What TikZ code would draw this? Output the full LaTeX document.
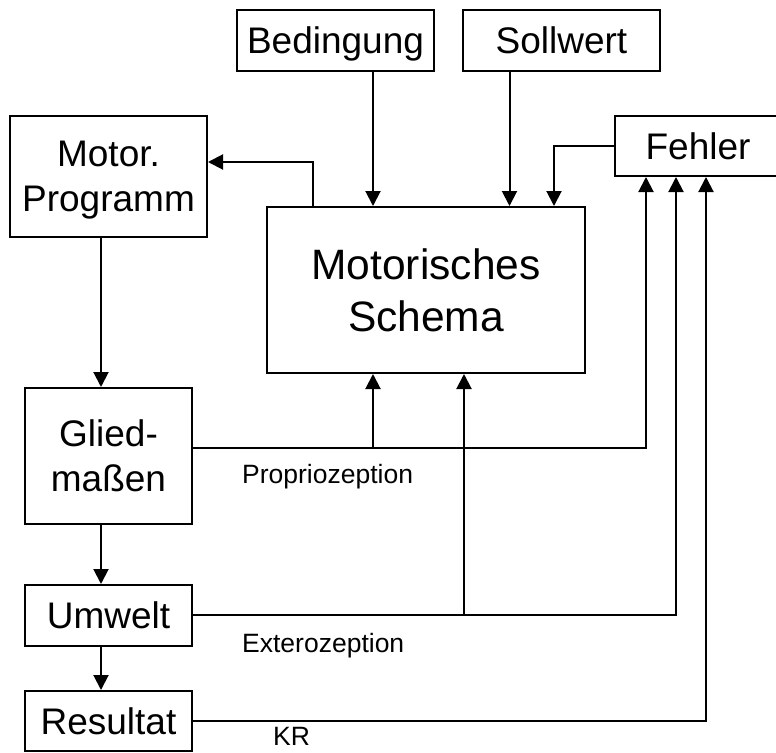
\documentclass[tikz,border=0pt]{standalone}
\usepackage{fontspec}
\setmainfont{Liberation Sans}
\usetikzlibrary{arrows.meta}
\begin{document}
\begin{tikzpicture}[x=1pt,y=-1pt,
  box/.style={draw,line width=2pt,inner sep=0pt,align=center,text depth=0pt,
    font=\fontsize{37}{45}\selectfont},
  lbl/.style={inner sep=0pt,font=\fontsize{26.5}{30}\selectfont},
  conn/.style={line width=2pt},
  flow/.style={conn,-{Triangle[length=15pt,width=15pt]}}]
\useasboundingbox (0,0) rectangle (776,752);

% boxes
\node[box,minimum width=197pt,minimum height=61pt] (bed) at (335.5,40.5) {Bedingung};
\node[box,minimum width=197pt,minimum height=61pt] (soll) at (561.5,40.5) {Sollwert};
\node[box,minimum width=166pt,minimum height=60pt] (fehl) at (698,146) {Fehler};
\node[box,minimum width=197pt,minimum height=121pt] (prog) at (108.5,176.5) {Motor.\\Programm};
\node[box,minimum width=318pt,minimum height=166pt,
  font=\fontsize{42.5}{52}\selectfont] (schema) at (426,290) {Motorisches\\Schema};
\node[box,minimum width=167pt,minimum height=136pt] (glied) at (108.5,456) {Glied-\\maßen};
\node[box,minimum width=167pt,minimum height=61pt] (umw) at (108.5,615.5) {Umwelt};
\node[box,minimum width=167pt,minimum height=60pt] (res) at (108.5,721) {Resultat};

% bend points and tap positions
\coordinate (pb) at (313,162);
\coordinate (xa) at (101,0);
\coordinate (xb) at (373,0);
\coordinate (xs) at (509.5,0);
\coordinate (xf) at (554,0);
\coordinate (pp) at (646,448);
\coordinate (pe) at (676,615);
\coordinate (pk) at (706,721);
\coordinate (tp) at (373,448);
\coordinate (te) at (464,615);

% inputs of the schema
\draw[flow] (bed.south -| xb) -- (schema.north -| xb);
\draw[flow] (soll.south -| xs) -- (schema.north -| xs);
\draw[flow] (fehl.west) -| (schema.north -| xf);
\draw[flow] (schema.north -| pb) -- (pb) -- (prog.east |- pb);

% motor chain
\draw[flow] (prog.south -| xa) -- (glied.north -| xa);
\draw[flow] (glied.south -| xa) -- (umw.north -| xa);
\draw[flow] (umw.south -| xa) -- (res.north -| xa);

% feedback loops
\draw[flow] (glied.east |- pp) -- (pp) -- (fehl.south -| pp);
\draw[flow] (tp) -- (schema.south -| tp);
\draw[flow] (umw.east |- pe) -- (pe) -- (fehl.south -| pe);
\draw[flow] (te) -- (schema.south -| te);
\draw[flow] (res.east |- pk) -- (pk) -- (fehl.south -| pk);

% loop labels
\node[lbl,anchor=base west] (lp) at (242,483) {Propriozeption};
\node[lbl,anchor=base west] (le) at (242,652) {Exterozeption};
\node[lbl,anchor=base west] (lk) at (273,745) {KR};
\end{tikzpicture}
\end{document}
